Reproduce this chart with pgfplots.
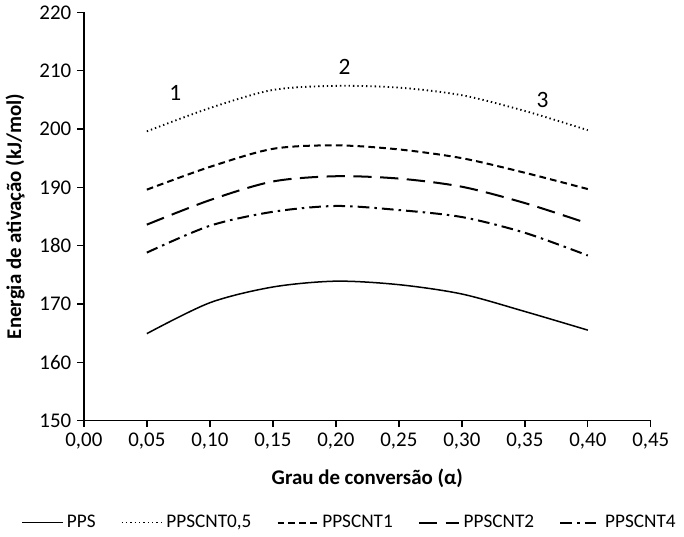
\documentclass[border=0pt]{standalone}
\usepackage{fontspec}
\setmainfont{Carlito}
\usepackage{pgfplots}
\pgfplotsset{compat=1.18}

\begin{document}
\begin{tikzpicture}
\begin{axis}[
    scale only axis,
    width=339pt, height=244pt,
    xmin=0, xmax=0.45, ymin=150, ymax=220,
    xtick={0,0.05,...,0.451},
    ytick={150,160,...,220},
    axis lines=left,
    axis line style={-, line width=0.8pt},
    tick align=outside,
    major tick length=4pt,
    tick style={black, line width=0.8pt},
    xticklabel style={/pgf/number format/.cd, fixed, fixed zerofill, precision=2, use comma, assume math mode=true},
    yticklabel style={/pgf/number format/assume math mode=true},
    ticklabel style={font=\fontsize{12.5}{14}\selectfont},
    xlabel={\textbf{Grau de conversão (α)}},
    ylabel={\textbf{Energia de ativação (kJ/mol)}},
    label style={font=\fontsize{12.5}{14}\selectfont},
    xlabel style={yshift=-5pt},
    ylabel style={yshift=2pt},
    legend columns=5,
    legend style={draw=none, at={(0.47,-0.25)}, anchor=center,
        font=\fontsize{11.5}{13}\selectfont,
        /tikz/every even column/.append style={column sep=13pt}},
    legend image code/.code={\draw[#1] (0cm,0cm) -- (0.85cm,0cm);},
    every axis plot/.append style={smooth, tension=0.5, black},
]
\addplot[solid, line width=0.9pt] coordinates {
    (0.05,164.9) (0.10,170.2) (0.15,172.9) (0.20,173.9)
    (0.25,173.3) (0.30,171.7) (0.35,168.7) (0.40,165.5)
};
\addlegendentry{PPS}
\addplot[line width=1.1pt, dash pattern=on 0.8pt off 1.8pt] coordinates {
    (0.05,199.6) (0.10,203.6) (0.15,206.7) (0.20,207.4)
    (0.25,207.1) (0.30,205.8) (0.35,203.1) (0.40,199.8)
};
\addlegendentry{PPSCNT0,5}
\addplot[line width=1.2pt, dash pattern=on 4pt off 2.5pt] coordinates {
    (0.05,189.6) (0.10,193.5) (0.15,196.6) (0.20,197.2)
    (0.25,196.5) (0.30,195.0) (0.35,192.5) (0.40,189.7)
};
\addlegendentry{PPSCNT1}
\addplot[line width=1.2pt, dash pattern=on 11pt off 5pt] coordinates {
    (0.05,183.6) (0.10,187.8) (0.15,191.0) (0.20,191.9)
    (0.25,191.5) (0.30,190.1) (0.35,187.3) (0.40,183.8)
};
\addlegendentry{PPSCNT2}
\addplot[line width=1.2pt, dash pattern=on 7pt off 3pt on 1.5pt off 3pt] coordinates {
    (0.05,178.8) (0.10,183.4) (0.15,185.8) (0.20,186.8)
    (0.25,186.1) (0.30,184.9) (0.35,182.2) (0.40,178.3)
};
\addlegendentry{PPSCNT4}
\node[font=\fontsize{14}{16}\selectfont] at (axis cs:0.0725,206.1) {1};
\node[font=\fontsize{14}{16}\selectfont] at (axis cs:0.207,210.7) {2};
\node[font=\fontsize{14}{16}\selectfont] at (axis cs:0.364,205.0) {3};
\end{axis}
\end{tikzpicture}
\end{document}
